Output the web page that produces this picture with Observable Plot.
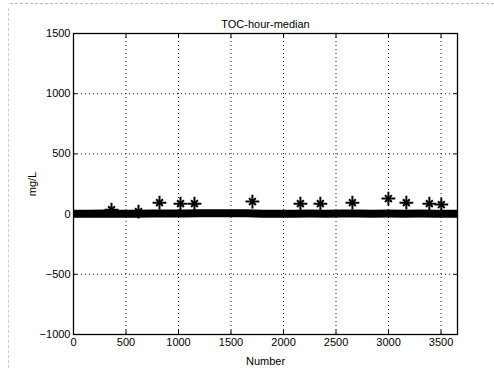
<!DOCTYPE html>
<html><head><meta charset="utf-8">
<script src="https://cdn.jsdelivr.net/npm/d3@7"></script>
<script src="https://cdn.jsdelivr.net/npm/@observablehq/plot@0.6"></script>
<style>
html,body{margin:0;padding:0;background:#fff;}
#wrap{position:relative;width:494px;height:371px;overflow:hidden;}
#scanTop{position:absolute;left:10px;top:3px;width:484px;border-top:1px dashed #bbb;}
#scanLeft{position:absolute;left:8px;top:8px;height:360px;border-left:1px dashed #ccc;}
</style></head>
<body><div id="wrap"><div id="scanTop"></div><div id="scanLeft"></div></div>
<script>
const titleText = "TOC-hour-median";
const xLabel = "Number";
const yLabel = "mg/L";
const xTicks = [0, 500, 1000, 1500, 2000, 2500, 3000, 3500];
const yTicks = [-1000, -500, 0, 500, 1000, 1500];
// dense baseline of hourly medians (sampled)
const baseX = [0, 150, 300, 450, 600, 750, 900, 1050, 1200, 1350, 1500, 1650, 1800, 1950, 2100, 2250, 2400, 2550, 2700, 2850, 3000, 3150, 3300, 3450, 3600, 3657];
const baseY = [3, 2, 4, 3, 2, 5, 4, 6, 7, 8, 8, 7, 3, 2, 3, 4, 3, 5, 4, 3, 4, 3, 4, 3, 2, 2];
// isolated high values
const outX = [362, 619, 819, 1019, 1152, 1704, 2161, 2351, 2656, 2999, 3170, 3389, 3503];
const outY = [37, 20, 95, 87, 87, 104, 87, 87, 95, 129, 95, 87, 79];

const base = baseX.map((x, i) => ({x, y: baseY[i]}));
const outs = outX.map((x, i) => ({x, y: outY[i]}));

const font = "Liberation Sans, Arial, sans-serif";
const chart = Plot.plot({
  width: 494, height: 371,
  marginLeft: 73, marginRight: 37, marginTop: 33, marginBottom: 37,
  style: {fontFamily: font, fontSize: "11px", color: "#000", background: "transparent"},
  x: {domain: [0, 3657]},
  y: {domain: [-1000, 1500]},
  marks: [
    Plot.gridX(xTicks, {stroke: "#000", strokeOpacity: 0.9, strokeDasharray: "1,3"}),
    Plot.gridY(yTicks, {stroke: "#000", strokeOpacity: 0.9, strokeDasharray: "1,3"}),
    Plot.frame({stroke: "#000", strokeWidth: 1.3}),
    Plot.axisX(xTicks, {anchor: "bottom", tickSize: -4, tickPadding: 8, tickFormat: "d", label: xLabel, labelAnchor: "center", labelArrow: "none", labelOffset: 30, fontSize: 11}),
    Plot.axisX(xTicks, {anchor: "top", tickSize: -4, text: null, label: null}),
    Plot.axisY(yTicks, {anchor: "left", tickSize: -4, tickPadding: 7, tickFormat: "d", label: yLabel, labelAnchor: "center", labelOffset: 45, labelArrow: "none", fontSize: 11}),
    Plot.axisY(yTicks, {anchor: "right", tickSize: -4, text: null, label: null}),
    Plot.line(base, {x: "x", y: "y", stroke: "#000", strokeWidth: 8, strokeLinecap: "butt"}),
    Plot.dot(outs, {x: "x", y: "y", symbol: "plus", r: 4.5, stroke: "#000", strokeWidth: 2}),
    Plot.dot(outs, {x: "x", y: "y", symbol: "times", r: 3.2, stroke: "#000", strokeWidth: 2}),
    Plot.text([titleText], {frameAnchor: "top", dy: -13, fontSize: 11, fill: "#000"})
  ]
});
document.getElementById("wrap").appendChild(chart);
chart.style.position = "absolute";
chart.style.left = "0"; chart.style.top = "0";
</script>
</body></html>
